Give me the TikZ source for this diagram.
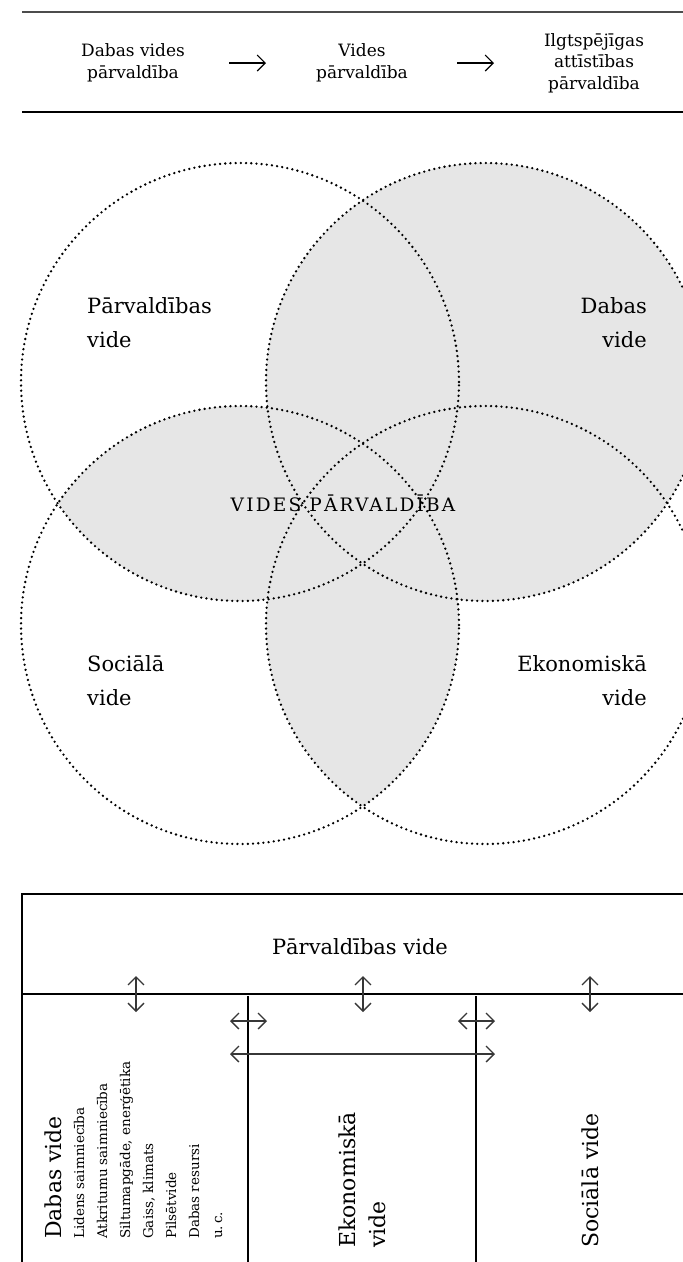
\documentclass[tikz,border=0pt]{standalone}
\usepackage{fontspec}
\setmainfont{DejaVu Serif}
\usetikzlibrary{arrows.meta}
\tikzset{>={Straight Barb[length=8pt,width=16pt]}}
\definecolor{venngray}{RGB}{230,230,230}
\definecolor{arrowgray}{RGB}{55,55,55}
\tikzset{
  venn/.style={line width=2.6pt, line cap=round, dash pattern=on 0pt off 5.2pt},
  toptext/.style={align=center, font=\fontsize{17}{21.5}\selectfont},
  vennlab/.style={inner sep=0pt, font=\fontsize{21}{34}\selectfont},
  tabtext/.style={inner sep=0pt, rotate=90, font=\fontsize{22}{30}\selectfont},
  listitem/.style={inner sep=0pt, rotate=90, anchor=base west, font=\fontsize{13.5}{16}\selectfont},
  link/.style={<->, line width=1.3pt, draw=arrowgray},
  rule/.style={line width=1.2pt}
}

\begin{document}
\begin{tikzpicture}[x=1pt, y=-1pt]
		\useasboundingbox (0,0) rectangle (683,1262);

		% top strip
		\draw[line width=1.5pt, draw=black!70] (22,12) -- (704,12);
		\draw[line width=1.5pt] (22,112) -- (704,112);
		\node[toptext] (T1) at (133,63) {Dabas vides\\pārvaldība};
		\node[toptext] (T2) at (362,63) {Vides\\pārvaldība};
		\node[toptext] (T3) at (594,63) {Ilgtspējīgas\\attīstības\\pārvaldība};
		\coordinate (a1) at (229,63);
		\coordinate (b1) at (266,63);
		\coordinate (a2) at (457,63);
		\coordinate (b2) at (494,63);
		\draw [->, line width=1.1pt] (a1)--(b1);
		\draw [->, line width=1.1pt] (a2)--(b2);

		% venn
		\coordinate (PV) at (240,382);
		\coordinate (DV) at (485,382);
		\coordinate (SV) at (240,625);
		\coordinate (EV) at (485,625);
		\fill[venngray] (DV) circle[radius=219pt];
		\begin{scope}
			\clip (PV) circle[radius=219pt];
			\fill[venngray] (SV) circle[radius=219pt] (EV) circle[radius=219pt];
		\end{scope}
		\begin{scope}
			\clip (SV) circle[radius=219pt];
			\fill[venngray] (EV) circle[radius=219pt];
		\end{scope}
		\draw[venn] (PV) circle[radius=219pt];
		\draw[venn] (DV) circle[radius=219pt];
		\draw[venn] (SV) circle[radius=219pt];
		\draw[venn] (EV) circle[radius=219pt];
		\node[vennlab, align=left, anchor=west] (pv) at (87,323) {Pārvaldības\\vide};
		\node[vennlab, align=right, anchor=east] (dv) at (647,323) {Dabas\\vide};
		\node[vennlab, align=left, anchor=west] (sv) at (87,681) {Sociālā\\vide};
		\node[vennlab, align=right, anchor=east] (ev) at (647,681) {Ekonomiskā\\vide};
		\node[font=\fontsize{18.5}{21}\selectfont\addfontfeature{LetterSpace=12}] (vp) at (343,503) {VIDES PĀRVALDĪBA};

		% table
		\draw[rule] (704,894) -- (22,894) -- (22,1270);
		\draw[rule] (22,994) -- (704,994);
		\draw[rule] (248,996) -- (248,1270);
		\draw[rule] (476,996) -- (476,1270);
		\node[font=\fontsize{21}{25}\selectfont] (pvt) at (360,947) {Pārvaldības vide};
		\coordinate (u1) at (136,976);
		\coordinate (d1) at (136,1012);
		\coordinate (u2) at (363,976);
		\coordinate (d2) at (363,1012);
		\coordinate (u3) at (590,976);
		\coordinate (d3) at (590,1012);
		\coordinate (l1) at (230,1021);
		\coordinate (r1) at (267,1021);
		\coordinate (l2) at (458,1021);
		\coordinate (r2) at (495,1021);
		\coordinate (l3) at (230,1054);
		\coordinate (r3) at (495,1054);
		\draw [link] (u1)--(d1);
		\draw [link] (u2)--(d2);
		\draw [link] (u3)--(d3);
		\draw [link] (l1)--(r1);
		\draw [link] (l2)--(r2);
		\draw [link] (l3)--(r3);

		\node[tabtext, anchor=west] (dvt) at (53,1239) {Dabas vide};
		\node[listitem] (i1) at (84,1239) {Lidens saimniecība};
		\node[listitem] (i2) at (107,1239) {Atkritumu saimniecība};
		\node[listitem] (i3) at (130,1239) {Siltumapgāde, enerģētika};
		\node[listitem] (i4) at (153,1239) {Gaiss, klimats};
		\node[listitem] (i5) at (176,1239) {Pilsētvide};
		\node[listitem] (i6) at (199,1239) {Dabas resursi};
		\node[listitem] (i7) at (222,1239) {u.\,c.};
		\node[tabtext, align=left, anchor=west] (evt) at (362,1248) {Ekonomiskā\\vide};
		\node[tabtext, anchor=west] (svt) at (590,1248) {Sociālā vide};

		\end{tikzpicture}
\end{document}
